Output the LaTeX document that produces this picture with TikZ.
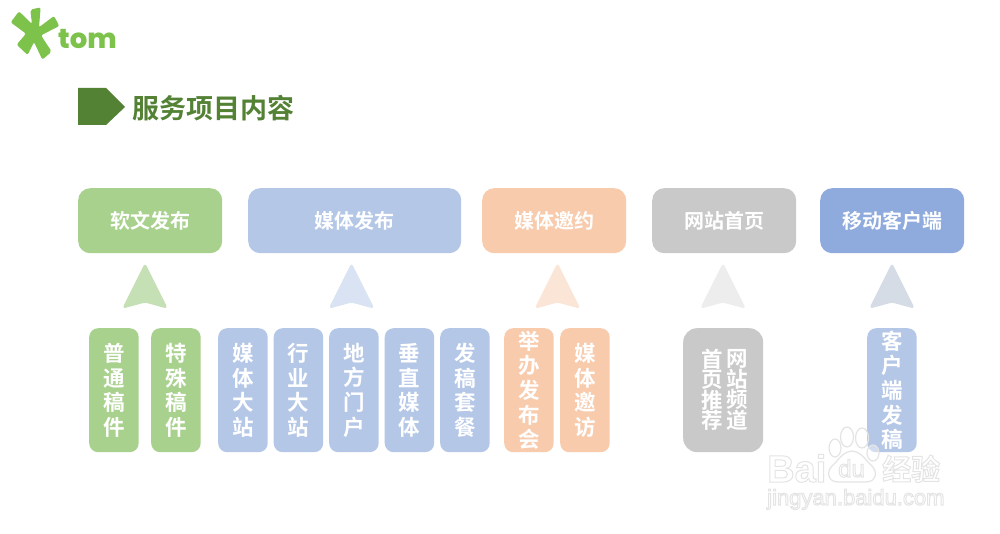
\documentclass[tikz,border=0pt]{standalone}
\usepackage{fontspec}
\setmainfont{Noto Sans CJK SC}[BoldFont={* Bold}]
\newfontfamily\logofont{Poppins}[BoldFont={Poppins ExtraBold}]
\newfontfamily\wmfont{Liberation Sans}
\definecolor{cgreen}{HTML}{A9D18E}
\definecolor{cblue}{HTML}{B4C7E7}
\definecolor{corange}{HTML}{F8CBAD}
\definecolor{cgray}{HTML}{C9C9C9}
\definecolor{cdeep}{HTML}{8FAADC}
\definecolor{agreen}{HTML}{C5E0B4}
\definecolor{ablue}{HTML}{DAE3F3}
\definecolor{aorange}{HTML}{FBE5D6}
\definecolor{agray}{HTML}{EDEDED}
\definecolor{adeep}{HTML}{D6DCE5}
\definecolor{logogreen}{HTML}{7DC24B}
\definecolor{titlegreen}{HTML}{548235}
\definecolor{wm}{HTML}{E4E4E4}
\newcommand{\outlined}[1]{\special{pdf:code 1 Tr 1 w}#1\special{pdf:code 0 Tr}}
\tikzset{
  headbox/.style={fill=#1,rounded corners=12pt,text=white,font=\bfseries\fontsize{20}{24}\selectfont,inner sep=0pt,minimum height=65pt,anchor=north west},
  subbox/.style={fill=#1,rounded corners=9pt,text=white,font=\bfseries\fontsize{21.5}{24.6}\selectfont,inner sep=0pt,minimum height=124pt,minimum width=49.5pt,align=center,anchor=north west},
  stacktext/.style={text=white,font=\bfseries\fontsize{21.5}{20.5}\selectfont,inner sep=0pt,align=center},
  upmark/.style={fill=#1,draw=#1,line width=1pt,rounded corners=2.5pt},
  wmtext/.style={text=wm,inner sep=0pt,anchor=base west}
}
\newcommand{\uparrowat}[2]{\path[upmark=#2] (#1,264) -- (#1+22,308) -- (#1,302) -- (#1-22,308) -- cycle;}
\begin{document}
\begin{tikzpicture}[x=1pt,y=-1pt]
\useasboundingbox[fill=white] (0,0) rectangle (1000,534);
% logo
\begin{scope}[shift={(5,2)},x=0.3333pt,y=-0.3333pt]
\path[fill=logogreen,rounded corners=2pt] (76,23) -- (107,16) -- (102,76) -- (147,42) -- (163,72) -- (108,100) -- (140,149) -- (112,173) -- (87,120) -- (68,159) -- (35,128) -- (63,95) -- (17,61) -- (42,28) -- (81,66) -- cycle;
\end{scope}
\node[text=logogreen,font=\logofont\bfseries\fontsize{27.5}{27.5}\selectfont,inner sep=0pt,anchor=base west] (logotext) at (58,49) {tom};
% title
\path[fill=titlegreen] (78,88) -- (106,88) -- (125,107) -- (106,125) -- (78,125) -- cycle;
\node[text=titlegreen,font=\bfseries\fontsize{27}{30}\selectfont,inner sep=0pt,anchor=west] (title) at (132.5,108) {服务项目内容};
% headers
\node[headbox=cgreen,minimum width=144pt] (h1) at (78,188) {软文发布};
\node[headbox=cblue,minimum width=213pt] (h2) at (248,188) {媒体发布};
\node[headbox=corange,minimum width=144pt] (h3) at (482,188) {媒体邀约};
\node[headbox=cgray,minimum width=144pt] (h4) at (652,188) {网站首页};
\node[headbox=cdeep,minimum width=144pt] (h5) at (820,188) {移动客户端};
% up marks
\uparrowat{145}{agreen}
\uparrowat{351.5}{ablue}
\uparrowat{557.5}{aorange}
\uparrowat{723}{agray}
\uparrowat{892}{adeep}
% sub boxes
\node[subbox=cgreen] (s1) at (89,328) {普\\通\\稿\\件};
\node[subbox=cgreen] (s2) at (151,328) {特\\殊\\稿\\件};
\node[subbox=cblue] (s3) at (218,328) {媒\\体\\大\\站};
\node[subbox=cblue] (s4) at (273.5,328) {行\\业\\大\\站};
\node[subbox=cblue] (s5) at (329,328) {地\\方\\门\\户};
\node[subbox=cblue] (s6) at (384.5,328) {垂\\直\\媒\\体};
\node[subbox=cblue] (s7) at (440,328) {发\\稿\\套\\餐};
\node[subbox=corange] (s8) at (504,328) {举\\办\\发\\布\\会};
\node[subbox=corange] (s9) at (560,328) {媒\\体\\邀\\访};
\node[subbox=cgray,minimum width=80pt,rounded corners=14pt] (s10) at (683,328) {};
\node[stacktext] (s10a) at (712,390) {首\\页\\推\\荐};
\node[stacktext] (s10b) at (737,390) {网\\站\\频\\道};
\node[subbox=cblue] (s11) at (867,328) {客\\户\\端\\发\\稿};
% watermark
\begin{scope}[wm,line width=1.2pt]
\draw (835,448) ellipse (6 and 9);
\draw (847,437) ellipse (6.5 and 10);
\draw (862,438) ellipse (6.5 and 10);
\draw[fill=white,fill opacity=0.4] (873,453) ellipse (6 and 8);
\draw (852,451) .. controls (842,452) and (838,461) .. (832,466) .. controls (826,472) and (828,482) .. (838,482) .. controls (847,482) and (857,482) .. (866,482) .. controls (876,482) and (878,472) .. (872,466) .. controls (866,461) and (862,452) .. (852,451) -- cycle;
\end{scope}
\node[wmtext,font=\wmfont\bfseries\fontsize{38}{38}\selectfont] (wm1) at (767,482) {\outlined{Bai}};
\node[wmtext,font=\wmfont\fontsize{24}{24}\selectfont] (wm2) at (838,477) {\outlined{du}};
\node[wmtext,font=\bfseries\fontsize{29}{29}\selectfont] (wm3) at (882,480) {\outlined{经验}};
\node[wmtext,font=\wmfont\fontsize{22}{22}\selectfont] (wm4) at (767,505) {\outlined{jingyan.baidu.com}};
\end{tikzpicture}
\end{document}
